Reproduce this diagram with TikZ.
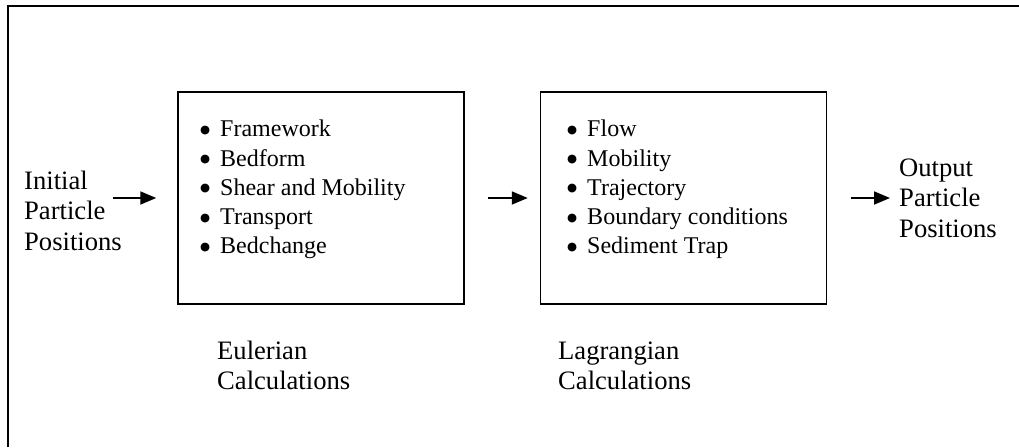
\documentclass[tikz,border=0pt]{standalone}
\usepackage{fontspec}
\setmainfont{Liberation Serif}
\newfontfamily\dotfont{DejaVu Sans}
\usetikzlibrary{arrows.meta,calc}
% list bullet: a small solid disc on the x-height centre line
\newcommand{\listdot}{\raisebox{3.4pt}{\dotfont\fontsize{11.5}{11.5}\selectfont ●}}
\begin{document}
\begin{tikzpicture}[x=1pt,y=-1pt,
  frame/.style={line width=1.8pt},
  stage/.style={draw,line width=1.5pt,minimum width=286pt,minimum height=212pt,inner sep=0pt},
  label/.style={anchor=base west,inner sep=0pt,font=\fontsize{26.6}{30.5}\selectfont},
  items/.style={anchor=base west,inner sep=0pt,font=\fontsize{24}{29.3}\selectfont},
  flow/.style={line width=1.8pt,-{Triangle[length=16pt,width=13pt]}}]
\useasboundingbox (0,0) rectangle (1019,447);

% open frame: top and left edges only
\coordinate (fbl) at (8,447);
\coordinate (ftl) at (8,6);
\coordinate (ftr) at (1019,6);
\draw[frame] (fbl) -- (ftl) -- (ftr);

% the two calculation stages
\node[stage] (euler) at (321,198) {};
\node[stage] (lagr) at (683.5,198) {};

\node[items] (elist) at (200,136.7) {\begin{tabular}[t]{@{}c@{\hspace{10pt}}l@{}}
\listdot & Framework\\
\listdot & Bedform\\
\listdot & Shear and Mobility\\
\listdot & Transport\\
\listdot & Bedchange
\end{tabular}};

\node[items] (llist) at (567,136.7) {\begin{tabular}[t]{@{}c@{\hspace{10pt}}l@{}}
\listdot & Flow\\
\listdot & Mobility\\
\listdot & Trajectory\\
\listdot & Boundary conditions\\
\listdot & Sediment Trap
\end{tabular}};

% input, output and stage captions
\node[label] (init) at (24,189) {\begin{tabular}[t]{@{}l@{}}Initial\\Particle\\Positions\end{tabular}};
\node[label] (out) at (899,176) {\begin{tabular}[t]{@{}l@{}}Output\\Particle\\Positions\end{tabular}};
\node[label] (ecap) at (217,359) {\begin{tabular}[t]{@{}l@{}}Eulerian\\Calculations\end{tabular}};
\node[label] (lcap) at (558,359) {\begin{tabular}[t]{@{}l@{}}Lagrangian\\Calculations\end{tabular}};

% flow arrows
\draw[flow] ($(euler.west)+(-64,0)$) -- ($(euler.west)+(-21,0)$);
\draw[flow] ($(euler.east)+(23,0)$) -- ($(lagr.west)+(-12,0)$);
\draw[flow] ($(lagr.east)+(24,0)$) -- ($(out.west |- lagr.east)+(-9,0)$);
\end{tikzpicture}
\end{document}
